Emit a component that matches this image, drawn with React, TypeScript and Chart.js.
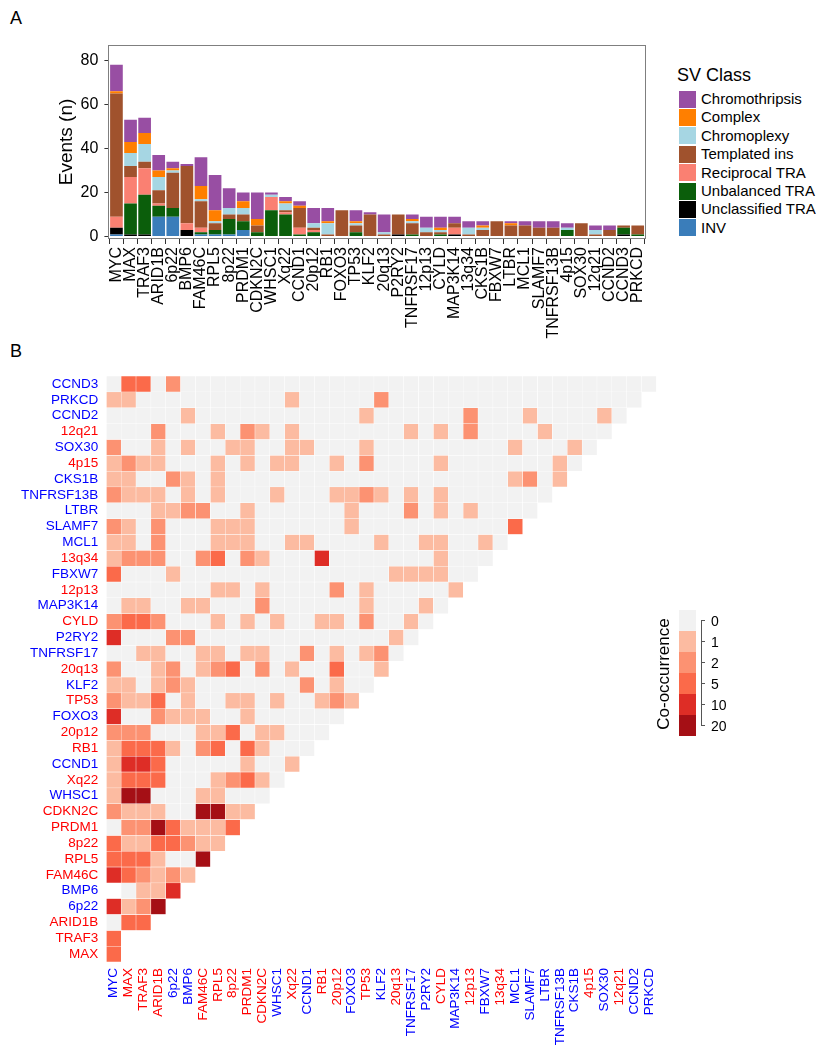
import React, { useEffect, useRef } from 'react';
import { Chart, registerables } from 'chart.js';

Chart.register(...registerables);

const FONT = '"Liberation Sans", Arial, Helvetica, sans-serif';

// ---------- Panel A: SV events per gene ----------
const barCategories = ['MYC', 'MAX', 'TRAF3', 'ARID1B', '6p22', 'BMP6', 'FAM46C', 'RPL5', '8p22', 'PRDM1', 'CDKN2C', 'WHSC1', 'Xq22', 'CCND1', '20p12', 'RB1', 'FOXO3', 'TP53', 'KLF2', '20q13', 'P2RY2', 'TNFRSF17', '12p13', 'CYLD', 'MAP3K14', '13q34', 'CKS1B', 'FBXW7', 'LTBR', 'MCL1', 'SLAMF7', 'TNFRSF13B', '4p15', 'SOX30', '12q21', 'CCND2', 'CCND3', 'PRKCD'];

const svINV = [1, 0, 0, 9, 9, 0, 1, 1, 1, 3, 0, 0, 0, 0, 0, 0, 0, 0, 0, 0, 0, 0, 0, 0, 0, 0, 0, 0, 0, 0, 0, 0, 0, 0, 0, 0, 0, 0];
const svUnclassifiedTRA = [3, 1, 1, 0, 0, 3, 0, 0, 0, 0, 0, 0, 0, 0, 0, 0, 0, 0, 0, 0, 1, 0, 0, 0, 1, 0, 0, 0, 0, 0, 0, 0, 0, 0, 0, 0, 1, 0];
const svUnbalancedTRA = [0, 14, 18, 5, 4, 0, 1, 2, 7, 4, 2, 12, 10, 1, 2, 0, 0, 2, 0, 0, 0, 1, 0, 1, 0, 0, 0, 0, 0, 0, 0, 0, 3, 0, 0, 0, 3, 1];
const svReciprocalTRA = [5, 12, 12, 1, 0, 3, 2, 0, 0, 0, 0, 6, 1, 3, 1, 0, 0, 0, 0, 0, 0, 0, 0, 0, 3, 0, 0, 0, 0, 0, 0, 0, 0, 0, 0, 0, 0, 0];
const svTemplatedIns = [56, 5, 3, 6, 16, 26, 12, 3, 2, 3, 3, 0, 1, 9, 1, 1, 12, 3, 10, 1, 9, 5, 2, 1, 2, 1, 3, 7, 5, 5, 4, 4, 0, 6, 1, 3, 1, 4];
const svChromoplexy = [0, 6, 8, 6, 1, 0, 1, 1, 3, 3, 0, 1, 3, 0, 2, 5, 0, 1, 0, 1, 0, 1, 2, 1, 0, 3, 1, 0, 0, 0, 0, 0, 1, 0, 2, 0, 0, 0];
const svComplex = [1, 5, 5, 3, 1, 0, 6, 5, 0, 3, 3, 0, 1, 1, 0, 1, 0, 1, 0, 0, 0, 1, 0, 1, 0, 0, 1, 0, 1, 0, 0, 0, 0, 0, 0, 0, 0, 0];
const svChromothripsis = [12, 10, 7, 7, 3, 1, 13, 16, 9, 4, 12, 1, 2, 2, 7, 6, 0, 5, 1, 8, 0, 2, 5, 5, 3, 3, 2, 0, 1, 2, 3, 3, 2, 0, 2, 2, 0, 0];

const eventTicks = [0, 20, 40, 60, 80];

// legend order (top to bottom); stacking order is the reverse
const svClasses = ['Chromothripsis', 'Complex', 'Chromoplexy', 'Templated ins', 'Reciprocal TRA', 'Unbalanced TRA', 'Unclassified TRA', 'INV'];
const svColors = ['#984EA3', '#FF7F00', '#A6D6E3', '#A0522D', '#FA8072', '#0B5E0B', '#000000', '#3A7DBA'];
const svSeries = [svChromothripsis, svComplex, svChromoplexy, svTemplatedIns, svReciprocalTRA, svUnbalancedTRA, svUnclassifiedTRA, svINV];

// ---------- Panel B: co-occurrence ----------
const coColumns = ['MYC', 'MAX', 'TRAF3', 'ARID1B', '6p22', 'BMP6', 'FAM46C', 'RPL5', '8p22', 'PRDM1', 'CDKN2C', 'WHSC1', 'Xq22', 'CCND1', 'RB1', '20p12', 'FOXO3', 'TP53', 'KLF2', '20q13', 'TNFRSF17', 'P2RY2', 'CYLD', 'MAP3K14', '12p13', 'FBXW7', '13q34', 'MCL1', 'SLAMF7', 'LTBR', 'TNFRSF13B', 'CKS1B', '4p15', 'SOX30', '12q21', 'CCND2', 'PRKCD'];
const coRows = ['CCND3', 'PRKCD', 'CCND2', '12q21', 'SOX30', '4p15', 'CKS1B', 'TNFRSF13B', 'LTBR', 'SLAMF7', 'MCL1', '13q34', 'FBXW7', '12p13', 'MAP3K14', 'CYLD', 'P2RY2', 'TNFRSF17', '20q13', 'KLF2', 'TP53', 'FOXO3', '20p12', 'RB1', 'CCND1', 'Xq22', 'WHSC1', 'CDKN2C', 'PRDM1', '8p22', 'RPL5', 'FAM46C', 'BMP6', '6p22', 'ARID1B', 'TRAF3', 'MAX'];
const redGenes = ['MAX', 'TRAF3', 'ARID1B', 'FAM46C', 'RPL5', '8p22', 'PRDM1', 'CDKN2C', 'Xq22', 'RB1', '20p12', 'TP53', '20q13', 'CYLD', '12p13', '13q34', '4p15', '12q21'];

// co-occurrence class per cell (index into coLevelLabels); null = no tile
const coLevelLabels = ['0', '1', '2', '5', '10', '20'];
const coLevelColors = ['#F2F2F2', '#FCBBA1', '#FC9272', '#FB6A4A', '#DE2D26', '#A50F15'];
const coLevels: (number | null)[][] = [
  /* CCND3 */ [0, 3, 3, 0, 2, 0, 0, 0, 0, 0, 0, 0, 0, 0, 0, 0, 0, 0, 0, 0, 0, 0, 0, 0, 0, 0, 0, 0, 0, 0, 0, 0, 0, 0, 0, 0, 0],
  /* PRKCD */ [1, 1, 0, 0, 0, 0, 0, 0, 0, 0, 0, 0, 1, 0, 0, 0, 0, 0, 2, 0, 0, 0, 0, 0, 0, 0, 0, 0, 0, 0, 0, 0, 0, 0, 0, 0],
  /* CCND2 */ [0, 0, 0, 0, 0, 1, 0, 0, 0, 0, 0, 0, 0, 0, 0, 0, 0, 1, 0, 0, 0, 0, 0, 0, 2, 0, 0, 0, 1, 0, 0, 0, 0, 1, 0],
  /* 12q21 */ [0, 0, 0, 2, 0, 0, 0, 1, 0, 2, 1, 0, 1, 0, 0, 0, 0, 0, 0, 0, 1, 0, 1, 0, 2, 0, 0, 0, 0, 1, 0, 0, 0, 0],
  /* SOX30 */ [2, 0, 0, 1, 0, 1, 0, 0, 1, 1, 0, 0, 1, 1, 0, 0, 0, 1, 0, 0, 0, 0, 0, 0, 0, 0, 0, 1, 0, 0, 0, 1, 0],
  /* 4p15 */ [1, 2, 1, 1, 0, 0, 0, 1, 0, 1, 0, 1, 1, 0, 0, 1, 0, 2, 0, 0, 0, 0, 1, 0, 0, 0, 0, 0, 0, 0, 1, 0],
  /* CKS1B */ [1, 1, 0, 0, 2, 1, 0, 1, 0, 0, 0, 0, 0, 0, 0, 0, 0, 0, 0, 0, 0, 0, 0, 0, 0, 0, 0, 1, 2, 0, 1],
  /* TNFRSF13B */ [2, 1, 1, 1, 0, 1, 0, 1, 0, 0, 0, 1, 0, 0, 0, 1, 1, 2, 1, 0, 1, 0, 1, 0, 0, 0, 0, 0, 0, 0],
  /* LTBR */ [0, 0, 0, 1, 1, 2, 2, 0, 0, 1, 0, 0, 0, 0, 0, 0, 1, 0, 0, 0, 2, 0, 1, 0, 1, 0, 0, 0, 0],
  /* SLAMF7 */ [2, 1, 0, 2, 0, 0, 0, 1, 1, 1, 0, 0, 0, 0, 0, 0, 1, 0, 0, 0, 0, 0, 0, 0, 0, 0, 0, 3],
  /* MCL1 */ [1, 1, 0, 2, 0, 0, 0, 1, 1, 1, 0, 0, 1, 1, 0, 0, 0, 0, 1, 0, 0, 1, 1, 0, 0, 1, 0],
  /* 13q34 */ [1, 2, 2, 2, 0, 0, 2, 3, 0, 2, 1, 0, 0, 0, 4, 0, 0, 0, 0, 0, 0, 0, 1, 0, 0, 0],
  /* FBXW7 */ [3, 0, 0, 0, 1, 0, 0, 0, 0, 0, 0, 0, 0, 0, 0, 0, 0, 0, 0, 1, 1, 1, 1, 0, 0],
  /* 12p13 */ [0, 0, 0, 0, 0, 0, 0, 1, 1, 0, 1, 0, 0, 0, 0, 2, 0, 1, 0, 0, 0, 0, 0, 1],
  /* MAP3K14 */ [0, 1, 1, 0, 0, 1, 1, 0, 0, 0, 2, 0, 0, 0, 0, 0, 0, 1, 0, 0, 0, 1, 0],
  /* CYLD */ [2, 3, 3, 2, 0, 0, 0, 1, 0, 1, 0, 1, 0, 0, 1, 1, 0, 2, 0, 0, 1, 0],
  /* P2RY2 */ [4, 0, 0, 0, 2, 2, 0, 0, 0, 0, 0, 0, 0, 0, 0, 0, 0, 0, 0, 1, 0],
  /* TNFRSF17 */ [0, 0, 1, 1, 0, 0, 1, 1, 0, 1, 1, 0, 0, 2, 0, 1, 0, 1, 2, 0],
  /* 20q13 */ [2, 0, 0, 1, 2, 0, 1, 2, 3, 0, 2, 0, 1, 0, 0, 3, 0, 0, 1],
  /* KLF2 */ [1, 1, 0, 1, 2, 1, 0, 0, 0, 0, 0, 0, 0, 2, 0, 1, 0, 0],
  /* TP53 */ [2, 1, 1, 3, 0, 1, 0, 0, 1, 1, 0, 1, 0, 0, 1, 2, 1],
  /* FOXO3 */ [4, 0, 0, 2, 1, 1, 1, 0, 0, 1, 0, 0, 0, 0, 0, 0],
  /* 20p12 */ [2, 2, 2, 0, 0, 0, 1, 1, 3, 0, 1, 1, 0, 0, 0],
  /* RB1 */ [1, 3, 3, 3, 1, 0, 2, 3, 0, 3, 1, 0, 0, 0],
  /* CCND1 */ [1, 4, 4, 3, 0, 0, 0, 0, 0, 1, 0, 0, 1],
  /* Xq22 */ [1, 3, 3, 3, 0, 0, 0, 1, 2, 3, 1, 0],
  /* WHSC1 */ [1, 5, 5, 0, 0, 0, 1, 1, 0, 0, 0],
  /* CDKN2C */ [2, 1, 1, 1, 0, 0, 5, 5, 1, 1],
  /* PRDM1 */ [0, 2, 2, 5, 3, 1, 1, 1, 3],
  /* 8p22 */ [3, 1, 1, 3, 3, 2, 1, 1],
  /* RPL5 */ [3, 3, 3, 1, 0, 0, 5],
  /* FAM46C */ [4, 3, 2, 1, 2, 1],
  /* BMP6 */ [null, 0, 1, 1, 4],
  /* 6p22 */ [4, 1, 2, 5],
  /* ARID1B */ [0, 3, 3],
  /* TRAF3 */ [3, null],
  /* MAX */ [3],
];

const geneColor = (g: string) => (redGenes.includes(g) ? '#FF0000' : '#0000FF');

export default function App() {
  const barRef = useRef<HTMLCanvasElement>(null);
  const heatRef = useRef<HTMLCanvasElement>(null);

  useEffect(() => {
    const framePlugin = {
      id: 'frame',
      afterDraw(chart: any) {
        const { ctx, chartArea: a } = chart;
        ctx.save();
        ctx.strokeStyle = '#7F7F7F';
        ctx.lineWidth = 1;
        const x0 = Math.round(a.left - 1.4) + 0.5;
        const x1 = Math.round(a.right + 1.4) - 0.5;
        const y0 = Math.round(a.top) + 0.5;
        const y1 = Math.round(a.bottom) - 0.5;
        ctx.strokeRect(x0, y0, x1 - x0, y1 - y0);
        ctx.restore();
      },
    };

    // stacked: bottom first
    const order = [7, 6, 5, 4, 3, 2, 1, 0];
    const barChart = new Chart(barRef.current!, {
      type: 'bar',
      data: {
        labels: barCategories,
        datasets: order.map((i) => ({
          label: svClasses[i],
          data: svSeries[i],
          backgroundColor: svColors[i],
          borderWidth: 0,
          barPercentage: 0.9,
          categoryPercentage: 1,
        })),
      },
      options: {
        responsive: false,
        animation: false,
        events: [],
        layout: { padding: { left: 1.4, top: 45, right: 6.4, bottom: 0 } },
        plugins: { legend: { display: false }, tooltip: { enabled: false } },
        scales: {
          x: {
            stacked: true,
            grid: { display: true, drawOnChartArea: false, drawTicks: true, tickLength: 5, tickColor: '#333333' },
            border: { display: false },
            ticks: {
              autoSkip: false,
              maxRotation: 90,
              minRotation: 90,
              padding: 3,
              color: '#000000',
              font: { family: FONT, size: 16 },
            },
            afterFit: (s: any) => {
              s.height = 106;
            },
          },
          y: {
            stacked: true,
            min: -1.1,
            max: 87,
            grid: { display: true, drawOnChartArea: false, drawTicks: true, tickLength: 5, tickColor: '#333333' },
            border: { display: false },
            ticks: { padding: 6, color: '#000000', font: { family: FONT, size: 16 } },
            afterBuildTicks: (s: any) => {
              s.ticks = eventTicks.map((v) => ({ value: v }));
            },
            afterFit: (s: any) => {
              s.width = 108;
            },
            title: {
              display: true,
              text: 'Events (n)',
              color: '#000000',
              font: { family: FONT, size: 19 },
              padding: { top: 54, bottom: 0 },
            },
          },
        },
      },
      plugins: [framePlugin],
    } as any);

    const heatDatasets = coRows.map((row, k) => {
      const lv = coLevels[k];
      return {
        label: row,
        data: coColumns.map((_, i) => (i < lv.length && lv[i] !== null ? [k - 0.5, k + 0.5] : null)),
        backgroundColor: coColumns.map((_, i) =>
          i < lv.length && lv[i] !== null ? coLevelColors[lv[i] as number] : 'rgba(0,0,0,0)'
        ),
        borderColor: '#FFFFFF',
        borderWidth: 0.5,
        borderSkipped: false,
        grouped: false,
        barPercentage: 1,
        categoryPercentage: 1,
      };
    });

    const heatChart = new Chart(heatRef.current!, {
      type: 'bar',
      data: { labels: coColumns, datasets: heatDatasets },
      options: {
        responsive: false,
        animation: false,
        events: [],
        layout: { padding: { left: 0, top: 14, right: 23.5, bottom: 0 } },
        plugins: { legend: { display: false }, tooltip: { enabled: false } },
        scales: {
          x: {
            grid: { display: false, drawTicks: false },
            border: { display: false },
            ticks: {
              autoSkip: false,
              maxRotation: 90,
              minRotation: 90,
              padding: 6,
              font: { family: FONT, size: 13.5 },
              color: (ctx: any) => geneColor(coColumns[ctx.index]),
            },
            afterFit: (s: any) => {
              s.height = 88;
            },
          },
          y: {
            type: 'linear',
            reverse: true,
            min: -0.5,
            max: coRows.length - 0.5,
            grid: { display: false, drawTicks: false },
            border: { display: false },
            ticks: {
              autoSkip: false,
              padding: 8,
              font: { family: FONT, size: 13.5 },
              callback: (v: any) => coRows[v as number] ?? '',
              color: (ctx: any) => geneColor(coRows[ctx.tick?.value] ?? ''),
            },
            afterBuildTicks: (s: any) => {
              s.ticks = coRows.map((_, k) => ({ value: k }));
            },
            afterFit: (s: any) => {
              s.width = 106.3;
            },
          },
        },
      },
    } as any);

    return () => {
      barChart.destroy();
      heatChart.destroy();
    };
  }, []);

  const text: React.CSSProperties = { position: 'absolute', fontFamily: FONT, color: '#000', whiteSpace: 'nowrap' };

  return (
    <div style={{ position: 'fixed', left: 0, top: 0, width: 816, height: 1050, background: '#fff', overflow: 'hidden' }}>
      <div style={{ ...text, left: 10, top: 7, fontSize: 18, lineHeight: '22px' }}>A</div>
      <div style={{ ...text, left: 10, top: 340, fontSize: 18, lineHeight: '22px' }}>B</div>

      <canvas ref={barRef} width={660} height={345} style={{ position: 'absolute', left: 0, top: 0 }} />
      <canvas ref={heatRef} width={680} height={690} style={{ position: 'absolute', left: 0, top: 360 }} />

      {/* SV Class legend */}
      <div style={{ ...text, left: 677, top: 63, fontSize: 18, lineHeight: '24px' }}>SV Class</div>
      {svClasses.map((c, i) => (
        <React.Fragment key={c}>
          <div
            style={{
              position: 'absolute',
              left: 679,
              top: 99 + i * 18.4 - 8.5,
              width: 17,
              height: 17,
              background: svColors[i],
            }}
          />
          <div style={{ ...text, left: 701, top: 99 + i * 18.4 - 9, fontSize: 15, lineHeight: '18px' }}>{c}</div>
        </React.Fragment>
      ))}

      {/* Co-occurrence legend */}
      <div
        style={{
          ...text,
          left: 664,
          top: 674,
          fontSize: 17,
          lineHeight: '20px',
          transform: 'translate(-50%, -50%) rotate(-90deg)',
        }}
      >
        Co-occurrence
      </div>
      {coLevelLabels.map((lab, i) => (
        <React.Fragment key={lab}>
          <div
            style={{
              position: 'absolute',
              left: 679,
              top: 610 + i * 21,
              width: 17,
              height: 21,
              background: coLevelColors[i],
            }}
          />
          <div style={{ position: 'absolute', left: 701, top: 620 + i * 21, width: 4, height: 1, background: '#555' }} />
          <div style={{ ...text, left: 711, top: 620.5 + i * 21 - 9, fontSize: 14, lineHeight: '18px' }}>{lab}</div>
        </React.Fragment>
      ))}
      <div style={{ position: 'absolute', left: 701, top: 620, width: 1, height: 106, background: '#555' }} />
    </div>
  );
}
